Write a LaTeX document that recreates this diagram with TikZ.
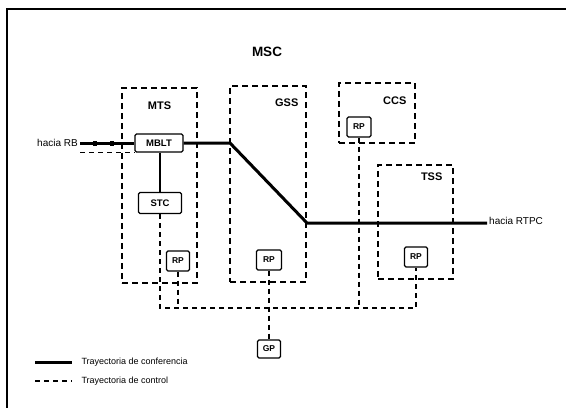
\documentclass[tikz,border=0pt]{standalone}
\usepackage{fontspec}
\setmainfont{Liberation Sans}
\usetikzlibrary{positioning}

\begin{document}
\begin{tikzpicture}[
  x=1pt, y=-1pt,
  every node/.style={font=\fontsize{9}{10.5}\selectfont},
  sub/.style={draw, line width=1.2pt, dash pattern=on 6pt off 4pt, inner sep=0pt},
  tag/.style={font=\fontsize{11}{12}\selectfont\bfseries, inner sep=0pt},
  unit/.style={draw, line width=1.3pt, rounded corners=1.5pt, inner sep=0pt,
               font=\fontsize{9.5}{10}\selectfont\bfseries},
  rp/.style={unit, minimum width=23pt, minimum height=20pt,
             font=\fontsize{8.5}{9}\selectfont\bfseries},
  tick/.style={fill, minimum width=4pt, minimum height=5pt, inner sep=0pt},
  conf/.style={line width=3pt},
  ctrl/.style={line width=1.2pt, dash pattern=on 5pt off 4pt},
  link/.style={line width=1.2pt},
]
\path[use as bounding box] (0,0) rectangle (566,408);
\draw[line width=1.8pt] (566,9) -| (7,408);

\node[font=\fontsize{13.5}{15}\selectfont\bfseries] (msc) at (267,52) {MSC};

\node[sub, minimum width=75pt, minimum height=195pt] (mts) at (159.5,185.5) {};
\node[sub, minimum width=76pt, minimum height=196pt] (gss) at (268,184) {};
\node[sub, minimum width=76pt, minimum height=60pt] (ccs) at (377,113) {};
\node[sub, minimum width=75pt, minimum height=114pt] (tss) at (415.5,222) {};
\node[tag, below=14pt of mts.north] (mtsl) {MTS};
\node[tag, below left=13pt and 8pt of gss.north east] (gssl) {GSS};
\node[tag, below left=14pt and 9pt of ccs.north east] (ccsl) {CCS};
\node[tag, below left=8pt and 11pt of tss.north east] (tssl) {TSS};

\node[unit, minimum width=48pt, minimum height=18pt] (mblt) at (159,143) {MBLT};
\node[unit, minimum width=43pt, minimum height=21pt] (stc) at (160,203) {STC};
\node[rp] (rp1) at (178,261) {RP};
\node[rp, minimum width=25pt] (rp2) at (269,260) {RP};
\node[rp, minimum width=24pt] (rp3) at (359,127) {RP};
\node[rp] (rp4) at (416,257) {RP};
\node[rp, minimum height=18pt] (gp) at (269,349) {GP};

\node[anchor=east, inner sep=2pt, font=\fontsize{10}{11}\selectfont] (rb) at (80,143) {hacia RB};
\node[anchor=west, inner sep=2pt, font=\fontsize{10}{11}\selectfont] (rtpc) at (487,221) {hacia RTPC};
\coordinate (k1) at (230,143);
\coordinate (k2) at (307,223);
\coordinate (bus) at (269,308);

\draw[conf] (rb.east) -- (mblt.west);
\draw[conf] (mblt.east) -- (k1) -- (k2) -- (k2 -| rtpc.west);
\node[tick] (m1) at (95,143) {};
\node[tick] (m2) at (112,143) {};

\draw[ctrl] (rb.east |- mblt.south west) -- (mblt.south west);
\draw[link] (mblt.south -| stc.north) -- (stc.north);
\draw[ctrl] (stc.south) |- (bus) -| (rp4.south);
\draw[ctrl] (rp1.south) -- (rp1.south |- bus);
\draw[ctrl] (rp3.south) -- (rp3.south |- bus);
\draw[ctrl] (rp2.south) -- (gp.north);

\coordinate (lk1) at (35,362);
\coordinate (lk2) at (35,381);
\node[anchor=west] (lconf) at (78,362) {Trayectoria de conferencia};
\node[anchor=west] (lctrl) at (78,381) {Trayectoria de control};
\draw[conf] (lk1) -- ([xshift=-6pt]lconf.west);
\draw[ctrl] (lk2) -- ([xshift=-6pt]lctrl.west);
\end{tikzpicture}
\end{document}
